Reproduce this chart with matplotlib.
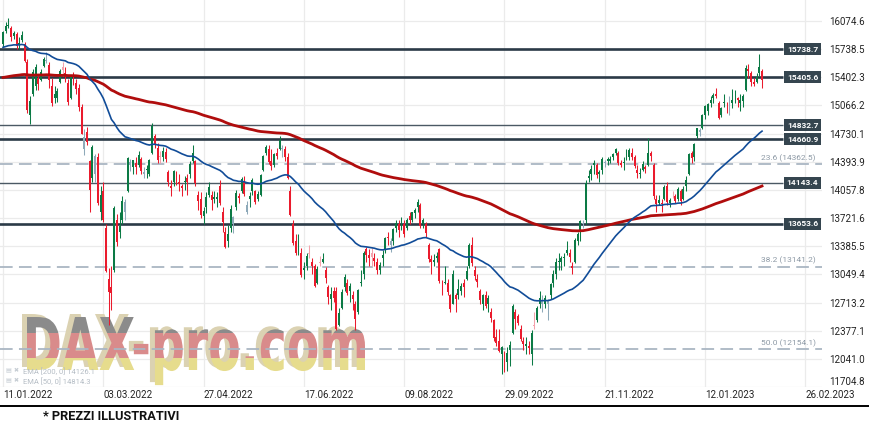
import numpy as np
import matplotlib
matplotlib.use("Agg")
import matplotlib.pyplot as plt
from matplotlib.textpath import TextPath
from matplotlib.font_manager import FontProperties
from matplotlib.patches import PathPatch, Rectangle
from matplotlib.transforms import Affine2D

plt.rcParams['font.family'] = ['Roboto', 'DejaVu Sans']

# daily candles, 11.01.2022 .. 10.02.2023 (trading days)
opens = [
    15800, 15960, 16020, 15990, 15900, 15920, 15790, 15850, 15800, 15590,
    14950, 15200, 15300, 15400, 15370, 15540, 15600, 15550, 15300, 15150,
    15150, 15350, 15520, 15450, 15330, 15150, 15410, 15330, 15280, 15050,
    14550, 14750, 14400, 14200, 14250, 14450, 13800, 14050, 13600, 13000,
    12900, 13100, 13700, 13550, 13700, 13800, 14050, 14350, 14330, 14380,
    14350, 14430, 14250, 14300, 14250, 14500, 14700, 14560, 14460, 14450,
    14510, 14270, 14100, 14150, 14250, 14150, 14100, 14150, 14200, 14250,
    14400, 14400, 14000, 13950, 13750, 13850, 14000, 14000, 13950, 13950,
    14100, 13800, 13550, 13450, 13600, 13650, 13850, 13980, 14050, 14150,
    13800, 13950, 14050, 14050, 13950, 14000, 14300, 14500, 14550, 14400,
    14350, 14500, 14550, 14550, 14550, 14450, 14050, 13650, 13450, 13300,
    13300, 13100, 13150, 13300, 13200, 13150, 12950, 13200, 13200, 13100,
    12900, 12750, 12850, 12850, 12450, 12650, 12900, 12950, 12850, 12800,
    12700, 12600, 12950, 13050, 13350, 13280, 13300, 13250, 13200, 13100,
    13250, 13350, 13500, 13400, 13450, 13600, 13650, 13600, 13650, 13600,
    13750, 13700, 13780, 13850, 13880, 13650, 13650, 13400, 13230, 13200,
    13250, 13350, 12900, 12950, 12950, 12800, 12700, 12800, 12800, 12850,
    12950, 13000, 13150, 13400, 13100, 13000, 12850, 12700, 12800, 12700,
    12600, 12500, 12300, 12250, 12100, 12100, 12000, 12150, 12350, 12600,
    12550, 12400, 12250, 12200, 12200, 12100, 12450, 12500, 12700, 12700,
    12700, 12700, 12800, 12950, 13050, 13200, 13200, 13250, 13300, 13300,
    13150, 13200, 13450, 13550, 13650, 13700, 14200, 14250, 14350, 14350,
    14250, 14300, 14380, 14400, 14400, 14450, 14500, 14500, 14380, 14380,
    14450, 14450, 14500, 14450, 14300, 14250, 14300, 14330, 14350, 14500,
    14350, 13950, 13900, 13900, 13950, 14100, 13900, 14000, 13990, 13950,
    14050, 13950, 14100, 14250, 14500, 14450, 14700, 14750, 14800, 14950,
    15000, 15100, 15150, 15200, 15100, 14950, 15100, 15100, 15050, 15100,
    15150, 15150, 15100, 15120, 15250, 15500, 15450, 15350, 15350, 15450,
    15480,
]
highs = [
    15960, 16060, 16110, 16010, 15960, 15940, 15880, 15950, 15820, 15620,
    15180, 15500, 15560, 15430, 15500, 15650, 15700, 15580, 15400, 15300,
    15280, 15500, 15590, 15520, 15380, 15430, 15460, 15380, 15320, 15080,
    14780, 14810, 14420, 14600, 14490, 14500, 14100, 14150, 13650, 13120,
    13150, 13870, 13770, 13800, 13980, 13950, 14450, 14430, 14420, 14450,
    14520, 14450, 14330, 14360, 14430, 14860, 14720, 14620, 14520, 14570,
    14560, 14300, 14180, 14300, 14280, 14250, 14130, 14230, 14250, 14400,
    14590, 14420, 14050, 14030, 13850, 14030, 14150, 14050, 14050, 14030,
    14180, 13850, 13610, 13640, 13880, 13750, 14060, 14020, 14210, 14220,
    13920, 14030, 14200, 14060, 14050, 14250, 14470, 14600, 14600, 14550,
    14500, 14560, 14700, 14600, 14580, 14500, 14100, 13700, 13530, 13530,
    13370, 13200, 13300, 13400, 13250, 13170, 13150, 13270, 13300, 13140,
    12920, 12900, 12900, 12900, 12650, 12880, 13050, 12990, 12950, 12850,
    12730, 12880, 13100, 13330, 13380, 13350, 13360, 13300, 13250, 13200,
    13340, 13500, 13560, 13480, 13600, 13700, 13700, 13740, 13700, 13720,
    13800, 13800, 13840, 13950, 13900, 13720, 13680, 13430, 13280, 13290,
    13320, 13370, 12980, 13150, 13000, 12820, 13100, 12830, 13000, 12950,
    13000, 13150, 13420, 13500, 13150, 13050, 12880, 12810, 12850, 12800,
    12650, 12520, 12400, 12400, 12200, 12130, 12180, 12250, 12700, 12640,
    12580, 12450, 12300, 12300, 12250, 12380, 12600, 12670, 12850, 12800,
    12800, 12750, 12950, 13100, 13250, 13300, 13270, 13300, 13450, 13350,
    13200, 13480, 13560, 13700, 13700, 14180, 14290, 14350, 14420, 14380,
    14300, 14450, 14420, 14450, 14460, 14500, 14560, 14520, 14420, 14450,
    14550, 14560, 14560, 14480, 14350, 14320, 14400, 14350, 14680, 14520,
    14380, 14000, 14000, 13950, 14120, 14150, 13960, 14050, 14010, 14090,
    14070, 14100, 14220, 14500, 14520, 14620, 14800, 14800, 14960, 15070,
    15100, 15180, 15220, 15270, 15120, 15050, 15200, 15110, 15180, 15260,
    15250, 15170, 15200, 15200, 15550, 15560, 15480, 15400, 15450, 15680,
    15500,
]
lows = [
    15770, 15930, 15990, 15830, 15860, 15740, 15740, 15820, 15580, 14980,
    14850, 15180, 15250, 15250, 15360, 15520, 15570, 15280, 15060, 15100,
    15110, 15340, 15420, 15350, 15070, 15140, 15310, 15200, 15000, 14720,
    14480, 14600, 13800, 14150, 14150, 13880, 13700, 13680, 13080, 12440,
    12630, 13080, 13390, 13480, 13650, 13700, 14030, 14280, 14250, 14250,
    14330, 14250, 14200, 14200, 14220, 14490, 14560, 14380, 14380, 14400,
    14390, 14110, 13990, 14100, 14120, 14050, 13990, 14060, 14000, 14200,
    14380, 14100, 13820, 13720, 13650, 13780, 13970, 13820, 13900, 13850,
    13880, 13560, 13360, 13380, 13560, 13540, 13820, 13900, 14020, 13990,
    13770, 13850, 14000, 13890, 13920, 13980, 14280, 14480, 14370, 14300,
    14330, 14430, 14530, 14450, 14400, 14190, 13750, 13400, 13280, 13280,
    13020, 12990, 13100, 13250, 13050, 12900, 12930, 13150, 13180, 12950,
    12700, 12620, 12720, 12390, 12430, 12640, 12850, 12800, 12720, 12620,
    12390, 12580, 12910, 13000, 13200, 13150, 13150, 13150, 13050, 13050,
    13150, 13300, 13400, 13320, 13400, 13550, 13500, 13580, 13500, 13580,
    13650, 13680, 13720, 13800, 13600, 13600, 13500, 13200, 13050, 13150,
    13200, 12950, 12800, 12940, 12800, 12600, 12690, 12600, 12750, 12800,
    12780, 12980, 13120, 13150, 12980, 12900, 12700, 12620, 12650, 12600,
    12480, 12250, 12200, 12120, 11860, 11880, 11900, 11950, 12340, 12400,
    12450, 12250, 12150, 12100, 12100, 11970, 12400, 12480, 12650, 12600,
    12650, 12500, 12750, 12900, 13000, 13100, 13100, 13150, 13280, 13200,
    13050, 13180, 13400, 13450, 13600, 13650, 14150, 14180, 14250, 14200,
    14150, 14250, 14330, 14350, 14380, 14420, 14480, 14350, 14330, 14300,
    14420, 14420, 14420, 14320, 14200, 14200, 14280, 14260, 14340, 14400,
    13950, 13800, 13880, 13800, 13940, 13880, 13850, 13960, 13900, 13930,
    13880, 13940, 14050, 14240, 14380, 14400, 14680, 14700, 14790, 14900,
    14950, 15050, 15100, 15150, 14900, 14930, 15050, 14980, 14950, 15030,
    15100, 15050, 15000, 15050, 15240, 15400, 15300, 15300, 15330, 15420,
    15280,
]
closes = [
    15942, 16010, 16031, 15883, 15933, 15772, 15810, 15912, 15603, 15011,
    15123, 15460, 15524, 15318, 15471, 15619, 15613, 15368, 15100, 15206,
    15242, 15482, 15490, 15425, 15113, 15412, 15370, 15267, 15042, 14731,
    14693, 14631, 14052, 14567, 14461, 13905, 14000, 13698, 13094, 12834,
    12831, 13847, 13442, 13628, 13929, 13918, 14441, 14388, 14413, 14326,
    14473, 14284, 14274, 14305, 14418, 14821, 14606, 14415, 14446, 14519,
    14424, 14153, 14078, 14284, 14193, 14124, 14076, 14163, 14153, 14362,
    14502, 14142, 13924, 13757, 13804, 13979, 14098, 13939, 13970, 13971,
    13903, 13674, 13381, 13534, 13828, 13739, 14027, 13964, 14186, 14007,
    13882, 13982, 14175, 13919, 14008, 14231, 14462, 14575, 14388, 14340,
    14485, 14460, 14653, 14556, 14445, 14198, 13762, 13427, 13304, 13483,
    13038, 13126, 13265, 13292, 13145, 12913, 13118, 13186, 13231, 13003,
    12784, 12813, 12773, 12401, 12594, 12843, 13015, 12832, 12906, 12756,
    12519, 12864, 12959, 13308, 13281, 13246, 13254, 13210, 13097, 13166,
    13282, 13484, 13479, 13449, 13587, 13662, 13574, 13688, 13535, 13700,
    13694, 13795, 13816, 13910, 13626, 13697, 13544, 13230, 13194, 13220,
    13271, 12971, 12893, 12961, 12835, 12631, 13050, 12761, 12872, 12916,
    12904, 13088, 13402, 13189, 13028, 12956, 12741, 12803, 12671, 12767,
    12531, 12284, 12227, 12140, 12183, 11976, 12114, 12209, 12671, 12517,
    12471, 12273, 12220, 12220, 12172, 12355, 12438, 12649, 12765, 12741,
    12767, 12731, 12931, 13052, 13195, 13211, 13243, 13253, 13338, 13257,
    13130, 13460, 13533, 13689, 13666, 14146, 14224, 14313, 14379, 14234,
    14266, 14431, 14380, 14422, 14428, 14484, 14541, 14383, 14355, 14397,
    14490, 14529, 14448, 14344, 14261, 14264, 14371, 14307, 14497, 14460,
    13987, 13893, 13943, 13885, 14098, 13914, 13941, 13995, 13926, 14071,
    13924, 14069, 14181, 14490, 14436, 14610, 14792, 14774, 14948, 15058,
    15086, 15134, 15187, 15181, 14920, 15033, 15103, 15093, 15082, 15132,
    15150, 15126, 15128, 15180, 15509, 15476, 15345, 15321, 15412, 15523,
    15370,
]

# EMA start values
ema50_start = 15760
ema200_start = 15400

date_labels = ['11.01.2022', '03.03.2022', '27.04.2022', '17.06.2022', '09.08.2022',
               '29.09.2022', '21.11.2022', '12.01.2023', '26.02.2023']
y_ticks = [11704.8, 12041.0, 12377.1, 12713.2, 13049.4, 13385.5, 13721.6,
           14057.8, 14393.9, 14730.1, 15066.2, 15402.3, 15738.5, 16074.6]

sr_levels = [15738.7, 15405.6, 14832.7, 14660.9, 14143.4, 13653.6]
sr_thick = [True, True, False, True, False, True]

fib_pct = ['23.6', '38.2', '50.0']
fib_levels = [14362.5, 13141.2, 12154.1]

legend_lines = ['EMA [200, 0] 14126.1', 'EMA [50, 0] 14814.3']


def ema(values, span, start):
    a = 2.0 / (span + 1)
    out = [start]
    for v in values[1:]:
        out.append(out[-1] + a * (v - out[-1]))
    return out


W, H = 870, 424
fig = plt.figure(figsize=(W / 100, H / 100), dpi=100)
ax = fig.add_axes([0, 37 / H, 822 / W, 387 / H])
step = 100.3 / 37  # px per trading day

n = len(closes)
x = np.arange(n)
o = np.array(opens, float)
h = np.array(highs, float)
l = np.array(lows, float)
c = np.array(closes, float)
prev = np.concatenate([[o[0]], c[:-1]])

colors = []
for oi, ci, pi in zip(o, c, prev):
    if ci >= oi:
        colors.append('#0b7a45' if ci >= pi else '#8ea9b9')
    else:
        colors.append('#ea1b2d' if ci <= pi else '#f4a2ac')

ax.vlines(x, l, h, colors=colors, lw=0.75, zorder=2)
body_h = np.maximum(np.abs(c - o), 8)
ax.bar(x, body_h, bottom=np.minimum(o, c), width=0.72, color=colors,
       linewidth=0, zorder=2.1)

ax.plot(x, ema(closes, 200, ema200_start), color='#b00d0d', lw=2.0, zorder=3)
ax.plot(x, ema(closes, 50, ema50_start), color='#114c98', lw=1.2, zorder=3.1)

# support / resistance lines with value boxes
x_end = (783 - 3) / step
for lev, thick in zip(sr_levels, sr_thick):
    ax.hlines(lev, -5, x_end, color='#2b3a47' if thick else '#4b5964',
              lw=1.9 if thick else 1.0, zorder=1.5)
    ax.text((802.5 - 3) / step, lev, f'{lev:.1f}', ha='center', va='center',
            fontsize=6, color='white', fontweight='bold', zorder=4,
            bbox=dict(boxstyle='square,pad=0.3', fc='#35454f', ec='none'))

# fibonacci retracements
for pct, lev in zip(fib_pct, fib_levels):
    ax.axhline(lev, color='#aab6c3', lw=1.3, dashes=(7, 3.5), zorder=1)
    ax.text((816 - 3) / step, lev + 30, f'{pct} ({lev})', ha='right', va='bottom',
            fontsize=6, color='#8d99a5', zorder=1)

ax.set_xlim(-3 / step, (822 - 3) / step)
ax.set_ylim(11704.8, 16325.4)
ax.set_yticks(y_ticks)
ax.set_yticklabels([f'{t:.1f}' for t in y_ticks])
ax.yaxis.tick_right()
ax.get_yticklabels()[0].set_verticalalignment('bottom')
ax.set_xticks(np.arange(len(date_labels)) * 37)
ax.set_xticklabels(date_labels)
for lab in ax.get_xticklabels():
    lab.set_horizontalalignment('left')
ax.tick_params(axis='y', length=0, pad=5, labelsize=7, labelcolor='#222222')
ax.tick_params(axis='x', length=0, pad=2, labelsize=7, labelcolor='#222222')
ax.grid(color='#ebebeb', lw=0.9)
ax.set_axisbelow(True)
for s in ax.spines.values():
    s.set_visible(False)

# watermark "DAX-pro.com" in flag colours (pixel coords)
fp = FontProperties(family='DejaVu Sans', weight='bold')
tp = TextPath((0, 0), 'DAX-pro.com', size=100, prop=fp)
cap = TextPath((0, 0), 'D', size=100, prop=fp).get_extents().y1
ext = tp.get_extents()
sx = 338 / ext.width
sy = 53 / cap
base = Affine2D().scale(sx, sy).translate(27 - ext.x0 * sx, H - 370)
shadow = PathPatch(tp, transform=base + Affine2D().translate(-5, 3),
                   fc='#dbd2b2', ec='none', zorder=0.6)
ax.add_patch(shadow)
for y0, y1, col in [(H - 333, H - 305, '#8b8b8b'), (H - 358, H - 333, '#d98b8b'),
                    (H - 390, H - 358, '#e6dc8d')]:
    r = Rectangle((0, y0), 400, y1 - y0, transform=Affine2D(), fc=col, ec='none',
                  zorder=0.7)
    r.set_clip_path(tp, base)
    ax.add_patch(r)

# indicator legend
for k, txt in enumerate(legend_lines):
    yy = (H - 371 - 10 * k) / H
    fig.text(6 / W, yy, '▤ ✖', fontsize=4.5, color='#c5ccd3', va='center',
             family=['DejaVu Sans'])
    fig.text(23 / W, yy, txt, fontsize=5.5, color='#b5bdc5', va='center')

fig.add_artist(plt.Line2D([0, 1], [(H - 406) / H] * 2, color='black', lw=1.4,
                          transform=fig.transFigure))
fig.text(43 / W, (H - 416) / H, '* PREZZI ILLUSTRATIVI', fontsize=9.2,
         fontweight='bold', va='center', color='#111111')

fig.savefig('out.png', dpi=100)
